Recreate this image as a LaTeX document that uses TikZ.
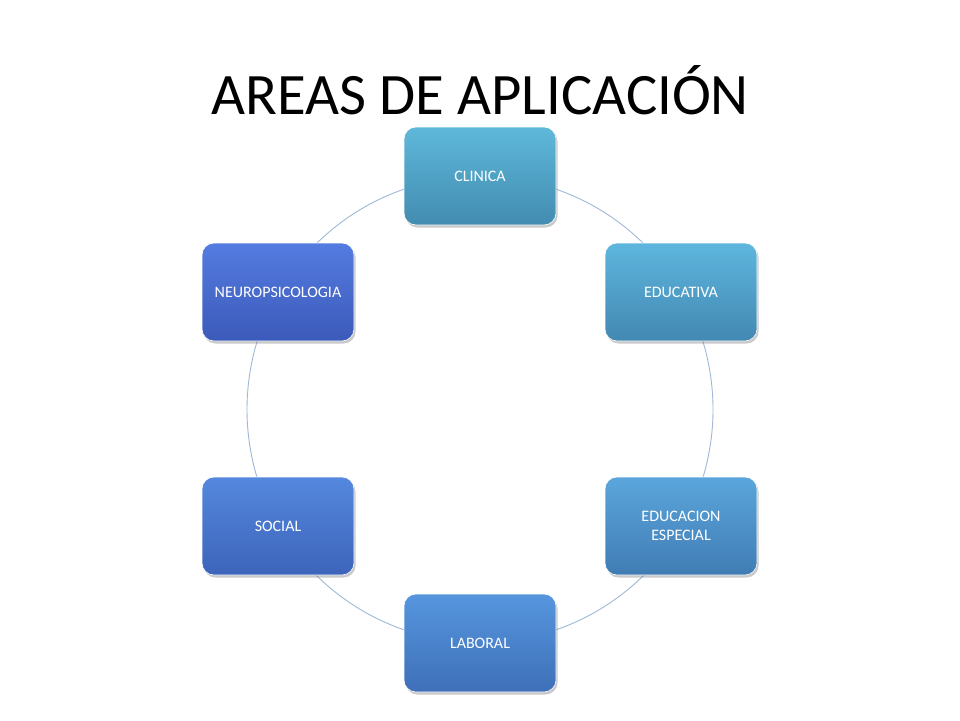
\documentclass[tikz,border=0pt]{standalone}
\usepackage{fontspec}
\setmainfont{Carlito}
\usetikzlibrary{shadows}
\definecolor{ringc}{HTML}{9FB8D8}
\tikzset{
  area/.style={rounded corners=12pt, minimum width=152pt, minimum height=98pt,
    text=white, font=\fontsize{16pt}{19pt}\selectfont, align=center,
    draw=white, line width=0.6pt, inner sep=2pt,
    drop shadow={shadow xshift=1.5pt, shadow yshift=-2.5pt, opacity=0.35, fill=black!60}},
}
\begin{document}
\begin{tikzpicture}[x=1pt,y=-1pt]
\useasboundingbox (0,0) rectangle (960,720);
\fill[white] (0,0) rectangle (960,720);
\node[font=\fontsize{58.7pt}{62pt}\selectfont] (title) at (480,90) {AREAS DE APLICACIÓN};
\coordinate (ctr) at (480,409.5);
\draw[ringc, line width=0.9pt] (ctr) circle[radius=233];
\node[area, top color={rgb,255:red,94;green,184;blue,218}, bottom color={rgb,255:red,66;green,140;blue,176}] (clin) at (480,176) {CLINICA};
\node[area, top color={rgb,255:red,94;green,182;blue,222}, bottom color={rgb,255:red,66;green,136;blue,178}] (educ) at (681,292) {EDUCATIVA};
\node[area, top color={rgb,255:red,90;green,166;blue,220}, bottom color={rgb,255:red,64;green,124;blue,180}] (esp) at (681,526) {EDUCACION\\ESPECIAL};
\node[area, top color={rgb,255:red,86;green,150;blue,222}, bottom color={rgb,255:red,62;green,112;blue,184}] (lab) at (480,643) {LABORAL};
\node[area, top color={rgb,255:red,84;green,136;blue,222}, bottom color={rgb,255:red,60;green,100;blue,186}] (soc) at (278,526) {SOCIAL};
\node[area, top color={rgb,255:red,84;green,124;blue,224}, bottom color={rgb,255:red,60;green,90;blue,186}] (neur) at (278,292) {NEUROPSICOLOGIA};
\end{tikzpicture}
\end{document}
